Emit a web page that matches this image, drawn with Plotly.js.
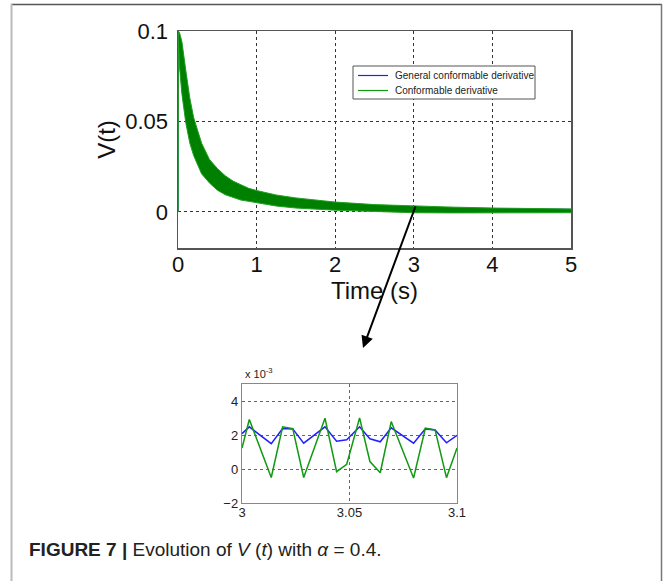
<!DOCTYPE html>
<html>
<head>
<meta charset="utf-8">
<script src="https://cdn.plot.ly/plotly-3.0.1.min.js"></script>
<style>
  html, body { margin: 0; padding: 0; background: #ffffff; }
  #chart { width: 665px; height: 581px; }
</style>
</head>
<body>
<div id="chart"></div>
<script>
// ---- Main plot: envelope of the oscillating V(t) band ----
const mainTime = [0, 0.005, 0.02, 0.05, 0.1, 0.15, 0.2, 0.3, 0.4, 0.5, 0.6, 0.7, 0.8, 0.9, 1.0,
                  1.25, 1.5, 1.75, 2.0, 2.5, 3.0, 3.5, 4.0, 4.5, 5.0];
const greenUpper = [0, 0.1, 0.099, 0.094, 0.078, 0.063, 0.052, 0.038, 0.029, 0.024, 0.020, 0.017, 0.015, 0.013, 0.0118,
                    0.0093, 0.0077, 0.0064, 0.0054, 0.0040, 0.0031, 0.0026, 0.0021, 0.0018, 0.0016];
const greenLower = [0, 0.095, 0.080, 0.065, 0.049, 0.038, 0.031, 0.021, 0.016, 0.012, 0.0095, 0.0078, 0.0065, 0.0058, 0.0050,
                    0.0032, 0.0021, 0.0014, 0.0009, 0.0002, -0.0005, -0.0006, -0.0006, -0.0005, -0.0005];
const blueUpper = [0, 0.1, 0.097, 0.091, 0.075, 0.060, 0.050, 0.036, 0.0275, 0.0225, 0.019, 0.016, 0.014, 0.0123, 0.011,
                   0.0087, 0.0071, 0.0060, 0.0050, 0.0036, 0.0025, 0.0021, 0.0018, 0.0016, 0.0014];
const blueLower = [0, 0.097, 0.083, 0.068, 0.052, 0.041, 0.034, 0.024, 0.018, 0.0138, 0.011, 0.0092, 0.0078, 0.0070, 0.0062,
                   0.0043, 0.0031, 0.0024, 0.0019, 0.0016, 0.0015, 0.0013, 0.0012, 0.0011, 0.0010];

// ---- Inset (zoom 3 .. 3.1 s), values in units of 1e-3 ----
const insetTime = [3.000, 3.0034, 3.0136, 3.0189, 3.0236, 3.0287, 3.0386, 3.0440, 3.0487, 3.0547,
                   3.0595, 3.0643, 3.0694, 3.0798, 3.0853, 3.0898, 3.0951, 3.100];
const insetGreen = [1.23, 2.91, -0.50, 2.48, 2.38, -0.50, 2.99, -0.16, 0.28, 3.01,
                    0.44, -0.22, 2.79, -0.53, 2.40, 2.30, -0.51, 1.23];
const insetBlue = [2.08, 2.48, 1.49, 2.38, 2.36, 1.52, 2.48, 1.64, 1.72, 2.48,
                   1.78, 1.60, 2.42, 1.52, 2.36, 2.30, 1.54, 1.98];

const seriesNames = ['General conformable derivative', 'Conformable derivative'];
const mainXTicks = [0, 1, 2, 3, 4, 5];
const mainYTicks = [0, 0.05, 0.1];
const mainYTickText = ['0', '0.05', '0.1'];
const insetXTicks = [3, 3.05, 3.1];
const insetXTickText = ['3', '3.05', '3.1'];
const insetYTicks = [-2, 0, 2, 4];

const BLUE = '#1f1fff';
const GREEN_FILL = '#008000';
const GREEN_EDGE = '#22a022';
const GREEN_LINE = '#119911';
const W = 665, H = 581;
const px = v => v / W;
const py = v => 1 - v / H;
const FONT = 'Arial, "Liberation Sans", Helvetica, sans-serif';

const traces = [
  { x: mainTime, y: blueLower, xaxis: 'x', yaxis: 'y', mode: 'lines',
    line: { color: BLUE, width: 1 }, showlegend: false, hoverinfo: 'skip' },
  { x: mainTime, y: blueUpper, xaxis: 'x', yaxis: 'y', mode: 'lines', fill: 'tonexty',
    fillcolor: BLUE, line: { color: BLUE, width: 1 }, showlegend: false, hoverinfo: 'skip' },
  { x: mainTime, y: greenLower, xaxis: 'x', yaxis: 'y', mode: 'lines',
    line: { color: GREEN_EDGE, width: 1 }, showlegend: false, hoverinfo: 'skip' },
  { x: mainTime, y: greenUpper, xaxis: 'x', yaxis: 'y', mode: 'lines', fill: 'tonexty',
    fillcolor: GREEN_FILL, line: { color: GREEN_EDGE, width: 1 }, showlegend: false, hoverinfo: 'skip' },
  { x: insetTime, y: insetBlue, xaxis: 'x2', yaxis: 'y2', mode: 'lines', name: seriesNames[0],
    line: { color: BLUE, width: 1.5 }, showlegend: false },
  { x: insetTime, y: insetGreen, xaxis: 'x2', yaxis: 'y2', mode: 'lines', name: seriesNames[1],
    line: { color: GREEN_LINE, width: 1.5 }, showlegend: false }
];

const gridStyle = { showgrid: true, gridcolor: '#333', griddash: 'dot', gridwidth: 1, zeroline: false };

const layout = {
  width: W, height: H,
  margin: { l: 0, r: 0, t: 0, b: 0 },
  paper_bgcolor: '#ffffff', plot_bgcolor: '#ffffff',
  font: { family: FONT, color: '#111' },
  showlegend: false,
  xaxis: Object.assign({
    domain: [px(178), px(571)], anchor: 'y', range: [0, 5],
    tickvals: mainXTicks, ticks: '', showline: true, mirror: true,
    linecolor: '#555', linewidth: 1.5, ticklabelstandoff: -4,
    tickfont: { family: FONT, size: 22, color: '#111' },
    title: { text: 'Time (s)', font: { family: FONT, size: 24, color: '#111' }, standoff: 0 }
  }, gridStyle),
  yaxis: Object.assign({
    domain: [py(248), py(31)], anchor: 'x', range: [-0.02, 0.1],
    tickvals: mainYTicks, ticktext: mainYTickText, ticks: '', showline: true, mirror: true,
    linecolor: '#555', linewidth: 1.5, ticklabelstandoff: 4,
    tickfont: { family: FONT, size: 22, color: '#111' },
    title: { text: 'V(t)', font: { family: FONT, size: 24, color: '#111' }, standoff: 3 }
  }, gridStyle),
  xaxis2: Object.assign({
    domain: [px(242), px(457)], anchor: 'y2', range: [3, 3.1],
    tickvals: insetXTicks, ticktext: insetXTickText, ticks: '', showline: true, mirror: true,
    linecolor: '#888', linewidth: 1.2, ticklabelstandoff: -3,
    tickfont: { family: FONT, size: 13, color: '#222' }
  }, gridStyle, { gridcolor: '#666' }),
  yaxis2: Object.assign({
    domain: [py(503), py(384)], anchor: 'x2', range: [-2, 5],
    tickvals: insetYTicks, ticks: '', showline: true, mirror: true,
    linecolor: '#888', linewidth: 1.2,
    tickfont: { family: FONT, size: 13, color: '#222' }
  }, gridStyle, { gridcolor: '#666' }),
  shapes: [
    // figure frame
    { type: 'line', xref: 'paper', yref: 'paper', x0: px(11), x1: px(662), y0: py(4.5), y1: py(4.5),
      line: { color: '#555', width: 1.5 } },
    { type: 'line', xref: 'paper', yref: 'paper', x0: px(11.5), x1: px(11.5), y0: py(4), y1: 0,
      line: { color: '#bbb', width: 2 } },
    { type: 'line', xref: 'paper', yref: 'paper', x0: px(661.5), x1: px(661.5), y0: py(4), y1: 0,
      line: { color: '#777', width: 1.5 } },
    // legend box and samples
    { type: 'rect', xref: 'paper', yref: 'paper', x0: px(353), x1: px(535), y0: py(99), y1: py(66),
      line: { color: '#555', width: 1 }, fillcolor: '#ffffff' },
    { type: 'line', xref: 'paper', yref: 'paper', x0: px(358), x1: px(388), y0: py(75.5), y1: py(75.5),
      line: { color: BLUE, width: 1.2 } },
    { type: 'line', xref: 'paper', yref: 'paper', x0: px(358), x1: px(388), y0: py(90.5), y1: py(90.5),
      line: { color: GREEN_LINE, width: 1.2 } }
  ],
  annotations: [
    { xref: 'paper', yref: 'paper', x: px(393), y: py(75.5), xanchor: 'left', yanchor: 'middle',
      text: seriesNames[0], showarrow: false, font: { family: FONT, size: 10, color: '#222' } },
    { xref: 'paper', yref: 'paper', x: px(393), y: py(90.5), xanchor: 'left', yanchor: 'middle',
      text: seriesNames[1], showarrow: false, font: { family: FONT, size: 10, color: '#222' } },
    { xref: 'paper', yref: 'paper', x: px(363), y: py(348), text: '', showarrow: true,
      ax: 53, ay: -143, arrowhead: 2, arrowsize: 1.2, arrowwidth: 2, arrowcolor: '#000' },
    { xref: 'paper', yref: 'paper', x: px(243), y: py(382), xanchor: 'left', yanchor: 'bottom',
      text: 'x 10<sup>-3</sup>', showarrow: false, font: { family: FONT, size: 11, color: '#222' } },
    { xref: 'paper', yref: 'paper', x: px(27), y: py(549), xanchor: 'left', yanchor: 'middle',
      text: '<b>FIGURE 7 |</b> Evolution of <i>V</i> (<i>t</i>) with <i>α</i> = 0.4.', showarrow: false,
      font: { family: FONT, size: 19, color: '#222' } }
  ]
};

Plotly.newPlot('chart', traces, layout, { displayModeBar: false, staticPlot: true });
</script>
</body>
</html>
